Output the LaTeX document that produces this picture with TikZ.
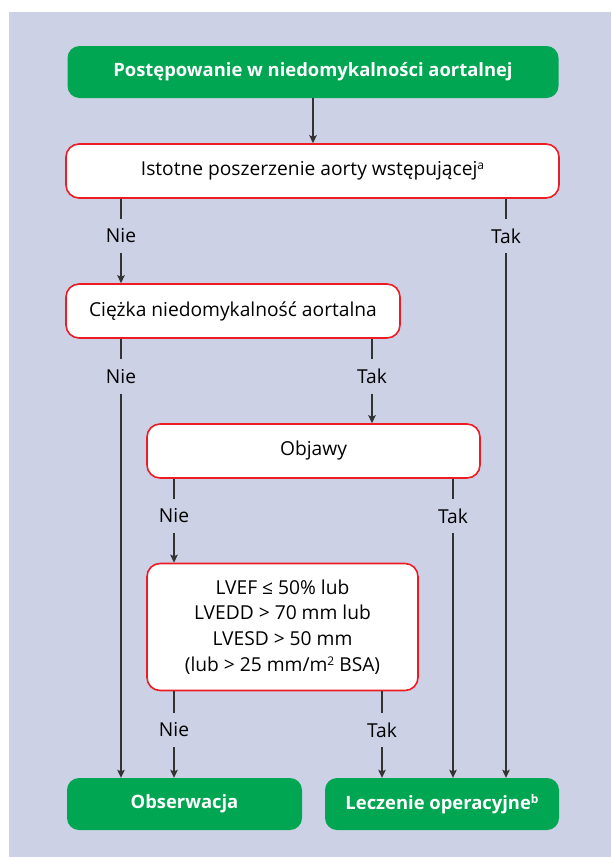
\documentclass[tikz,border=0pt]{standalone}
\usepackage{fontspec}
\setmainfont{Open Sans}
\usetikzlibrary{arrows.meta}
\definecolor{panelbg}{HTML}{CDD1E6}
\definecolor{okgreen}{HTML}{00A651}
\definecolor{alertred}{HTML}{ED1C24}
\definecolor{wire}{HTML}{333333}
\newcommand{\supsmall}[1]{\raisebox{0.6ex}{\fontsize{12}{12}\selectfont #1}}
\begin{document}
\begin{tikzpicture}[x=1pt,y=-1pt,
  font=\fontsize{19.2}{25.7}\selectfont,
  qbox/.style={draw=alertred, line width=1.6pt, fill=white, rounded corners=13pt,
    inner sep=0pt, align=center, text=black},
  gbox/.style={fill=okgreen, rounded corners=12pt, inner sep=0pt,
    text=white, font=\fontsize{18.4}{25.7}\selectfont\bfseries},
  lbl/.style={inner sep=0pt, minimum height=34pt, text=black},
  wireline/.style={draw=wire, line width=1.2pt},
  arr/.style={wireline, -{Stealth[length=8pt, width=7.5pt, inset=1.5pt]}}]

% canvas and panel
\useasboundingbox (0,0) rectangle (611,857);
\fill[panelbg] (9,12) rectangle (611,857);

% boxes
\node[gbox, minimum width=491pt, minimum height=52pt] (title) at (313,72)
  {Postępowanie w niedomykalności aortalnej};
\node[qbox, minimum width=493pt, minimum height=54pt] (q1) at (312.5,171)
  {Istotne poszerzenie aorty wstępującej\supsmall{a}};
\node[qbox, minimum width=334pt, minimum height=54pt] (q2) at (233,311)
  {Ciężka niedomykalność aortalna};
\node[qbox, minimum width=333pt, minimum height=54pt] (q3) at (313.5,451)
  {Objawy};
\node[qbox, minimum width=271pt, minimum height=127pt] (q4) at (282.5,627)
  {LVEF ≤ 50\% lub\\LVEDD > 70 mm lub\\LVESD > 50 mm\\(lub > 25 mm/m\supsmall{2} BSA)};
\node[gbox, minimum width=235pt, minimum height=52pt] (obs) at (184.5,804)
  {Obserwacja};
\node[gbox, minimum width=234pt, minimum height=52pt] (op) at (442,804)
  {Leczenie operacyjne\supsmall{\bfseries b}};

% branch labels
\node[lbl] (n1) at (121,236) {Nie};
\node[lbl] (t1) at (506,236) {Tak};
\node[lbl] (n2) at (121,376.5) {Nie};
\node[lbl] (t2) at (372,376.5) {Tak};
\node[lbl] (n3) at (174,516) {Nie};
\node[lbl] (t3) at (453,516) {Tak};
\node[lbl] (n4) at (174,730) {Nie};
\node[lbl] (t4) at (382,730) {Tak};

% connectors
\draw[arr] (title.south) -- (q1.north -| title.south);

\draw[wireline] (q1.south -| n1) -- (n1.north);
\draw[arr] (n1.south) -- (q2.north -| n1);
\draw[wireline] (q1.south -| t1) -- (t1.north);
\draw[arr] (t1.south) -- (op.north -| t1);

\draw[wireline] (q2.south -| n2) -- (n2.north);
\draw[arr] (n2.south) -- (obs.north -| n2);
\draw[wireline] (q2.south -| t2) -- (t2.north);
\draw[arr] (t2.south) -- (q3.north -| t2);

\draw[wireline] (q3.south -| n3) -- (n3.north);
\draw[arr] (n3.south) -- (q4.north -| n3);
\draw[wireline] (q3.south -| t3) -- (t3.north);
\draw[arr] (t3.south) -- (op.north -| t3);

\draw[wireline] (q4.south -| n4) -- (n4.north);
\draw[arr] (n4.south) -- (obs.north -| n4);
\draw[wireline] (q4.south -| t4) -- (t4.north);
\draw[arr] (t4.south) -- (op.north -| t4);
\end{tikzpicture}
\end{document}
